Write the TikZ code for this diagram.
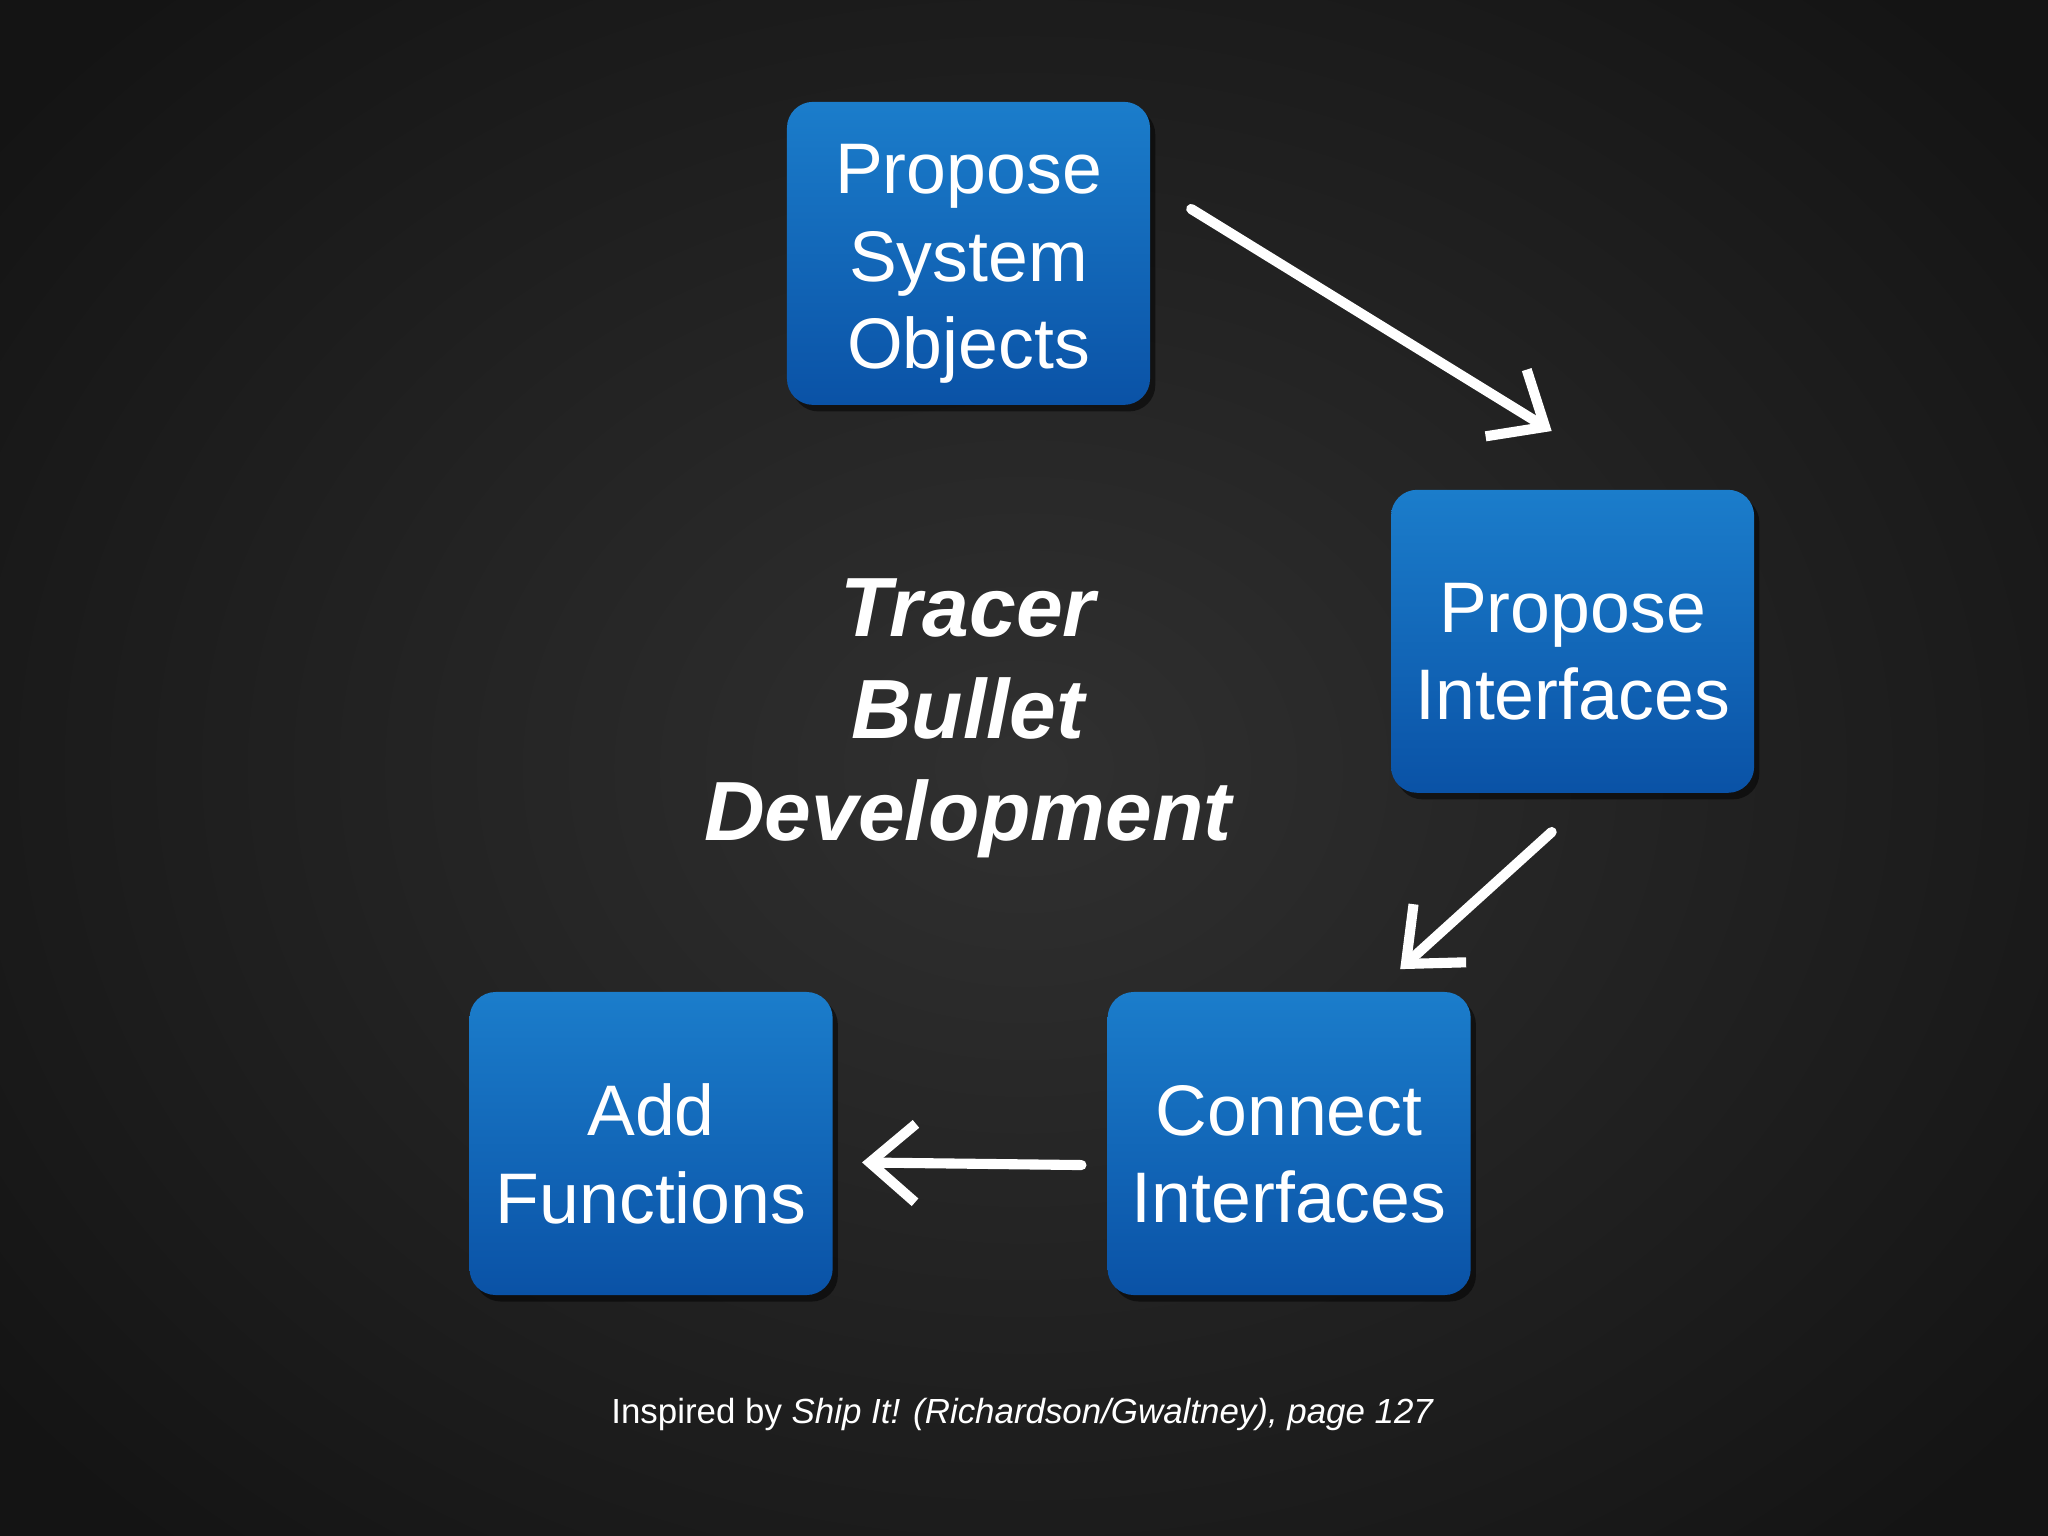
\documentclass[tikz,border=0pt]{standalone}
\usepackage{fontspec}
\setmainfont{Liberation Sans}
\usetikzlibrary{arrows.meta,shadows}
\definecolor{boxtop}{HTML}{1B7DCB}
\definecolor{boxbot}{HTML}{0A52A6}
\tikzset{
  stepbox/.style={rounded corners=0.2cm, minimum width=2.78cm, minimum height=2.32cm,
    top color=boxtop, bottom color=boxbot, draw=none, drop shadow={opacity=0.5, fill=black, shadow xshift=0.04cm, shadow yshift=-0.05cm}},
  boxtext/.style={text=white, align=center, font=\fontsize{15.6}{19}\selectfont, yshift=-0.08cm},
  chalk/.style={white, line width=2.2pt, -{Straight Barb[length=0.35cm,width=0.6cm,line width=2.2pt]}, line cap=round}
}
\begin{document}
\begin{tikzpicture}
\useasboundingbox (0,0) rectangle (15.68,-11.76);
\shade[inner color=black!62!gray, outer color=black!92] (-2,2) rectangle (17.68,-13.76);
\node[stepbox] (pso) at (7.415,-1.94) {};
\node[stepbox] (pi) at (12.04,-4.91) {};
\node[stepbox] (ci) at (9.87,-8.755) {};
\node[stepbox] (af) at (4.985,-8.755) {};
\node[boxtext] (psot) at (pso.center) {Propose\\System\\Objects};
\node[boxtext] (pit) at (pi.center) {Propose\\Interfaces};
\node[boxtext] (cit) at (ci.center) {Connect\\Interfaces};
\node[boxtext] (aft) at (af.center) {Add\\Functions};
\node[text=white, align=center, font=\fontsize{18.3}{22.2}\selectfont\bfseries\itshape] (title) at (7.41,-5.5) {Tracer\\Bullet\\Development};
\node[text=white, font=\fontsize{7.6}{9}\selectfont] (foot) at (7.83,-10.83) {Inspired by \textit{Ship It! (Richardson/Gwaltney), page 127}};
\coordinate (a1s) at (9.12,-1.6); \coordinate (a1e) at (11.88,-3.3);
\coordinate (a2s) at (11.88,-6.37); \coordinate (a2e) at (10.72,-7.42);
\coordinate (a3s) at (8.28,-8.92); \coordinate (a3e) at (6.6,-8.9);
\draw[chalk] (a1s) -- (a1e);
\draw[chalk] (a2s) -- (a2e);
\draw[chalk] (a3s) -- (a3e);
\end{tikzpicture}
\end{document}
